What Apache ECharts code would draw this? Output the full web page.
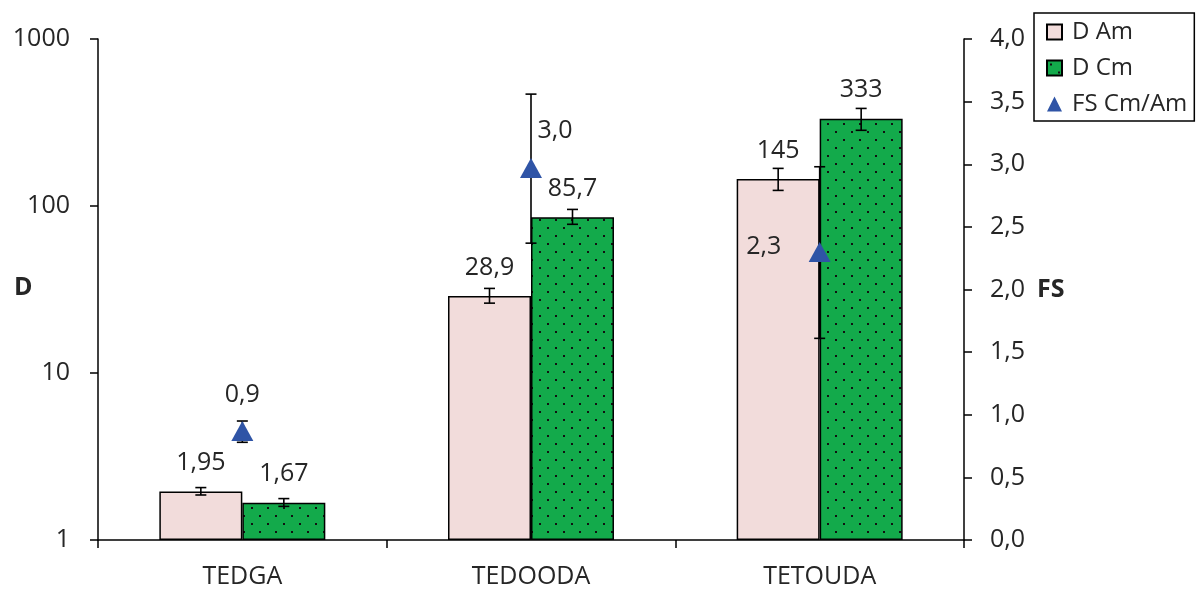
<!DOCTYPE html>
<html>
<head>
<meta charset="utf-8">
<script src="https://cdn.jsdelivr.net/npm/echarts@6/dist/echarts.min.js"></script>
<style>
  html, body { margin: 0; padding: 0; background: #ffffff; }
  #chart { width: 1196px; height: 589px; }
</style>
</head>
<body>
<div id="chart"></div>
<script>
// Categories and measured values
const categories = ['TEDGA', 'TEDOODA', 'TETOUDA'];

const dAm = [1.95, 28.9, 145];
const dAmLow = [1.86, 26.2, 124];
const dAmHigh = [2.06, 32.1, 168];

const dCm = [1.67, 85.7, 333];
const dCmLow = [1.59, 77.7, 284];
const dCmHigh = [1.77, 95.4, 384];

const fsCmAm = [0.87, 2.97, 2.30];
const fsLow = [0.78, 2.37, 1.61];
const fsHigh = [0.95, 3.56, 2.98];

const leftTicks = [1, 10, 100, 1000];

const FONT = '"Open Sans", "Noto Sans", sans-serif';
const TEXT = '#262626';
const FS = 25;
const BAR_FRAC = 0.2875; // each bar's share of a category band

// Dotted fill used for the D Cm bars
function dottedPattern() {
  const c = document.createElement('canvas');
  c.width = 16; c.height = 16;
  const g = c.getContext('2d');
  g.fillStyle = '#13aa4b';
  g.fillRect(0, 0, 16, 16);
  g.fillStyle = '#111111';
  g.fillRect(3, 3, 2, 2);
  g.fillRect(11, 11, 2, 2);
  return { image: c, repeat: 'repeat' };
}

const comma = v => String(v).replace('.', ',');

// Error bars drawn as a vertical whisker with caps
function errorSeries(name, lows, highs, side, yAxisIndex, z) {
  return {
    name: name,
    type: 'custom',
    yAxisIndex: yAxisIndex,
    z: z,
    silent: true,
    legendHoverLink: false,
    data: lows.map((lo, i) => [i, lo, highs[i]]),
    renderItem: function (params, api) {
      const bw = api.size([1, 1])[0];
      const dx = side * bw * BAR_FRAC / 2;
      const top = api.coord([api.value(0), api.value(2)]);
      const bot = api.coord([api.value(0), api.value(1)]);
      const x = top[0] + dx;
      const cap = 5.5;
      const style = { stroke: '#000000', lineWidth: 1.6, fill: null };
      return {
        type: 'group',
        children: [
          { type: 'line', shape: { x1: x, y1: top[1], x2: x, y2: bot[1] }, style: style },
          { type: 'line', shape: { x1: x - cap, y1: top[1], x2: x + cap, y2: top[1] }, style: style },
          { type: 'line', shape: { x1: x - cap, y1: bot[1], x2: x + cap, y2: bot[1] }, style: style }
        ]
      };
    }
  };
}

// Label placement for each FS point, relative to the marker centre
const fsLabelOffsets = [[0, -36], [24, -37], [-56, -5]];

const chart = echarts.init(document.getElementById('chart'), null, { renderer: 'canvas' });

chart.setOption({
  backgroundColor: '#ffffff',
  animation: false,
  textStyle: { fontFamily: FONT, color: TEXT },
  grid: { left: 98, right: 232, top: 39, bottom: 47, containLabel: false },
  legend: {
    orient: 'vertical',
    left: 1034,
    top: 13,
    padding: [7, 7, 5, 12],
    itemGap: 12,
    itemWidth: 15,
    itemHeight: 15,
    borderColor: '#000000',
    borderWidth: 1.5,
    backgroundColor: '#ffffff',
    textStyle: { fontFamily: FONT, fontSize: 24, color: TEXT, padding: [0, 0, 0, 5] },
    data: [
      { name: 'D Am', icon: 'rect' },
      { name: 'D Cm', icon: 'rect' },
      { name: 'FS Cm/Am', icon: 'triangle' }
    ]
  },
  xAxis: {
    type: 'category',
    data: categories,
    axisLine: { lineStyle: { color: '#000000', width: 1.5 } },
    axisTick: { show: true, length: 8, lineStyle: { color: '#000000', width: 1.5 } },
    axisLabel: { fontFamily: FONT, fontSize: FS, color: TEXT, margin: 24 },
    splitLine: { show: false }
  },
  yAxis: [
    {
      type: 'log',
      logBase: 10,
      min: leftTicks[0],
      max: leftTicks[leftTicks.length - 1],
      axisLine: { show: true, lineStyle: { color: '#000000', width: 1.5 } },
      axisTick: { show: true, length: 8, lineStyle: { color: '#000000', width: 1.5 } },
      axisLabel: {
        fontFamily: FONT, fontSize: FS, color: TEXT, margin: 28,
        formatter: v => String(Math.round(v))
      },
      splitLine: { show: false },
      minorTick: { show: false }
    },
    {
      type: 'value',
      min: 0,
      max: 4,
      interval: 0.5,
      position: 'right',
      axisLine: { show: true, lineStyle: { color: '#000000', width: 1.5 } },
      axisTick: { show: true, length: 8, lineStyle: { color: '#000000', width: 1.5 } },
      axisLabel: {
        fontFamily: FONT, fontSize: FS, color: TEXT, margin: 26,
        formatter: v => v.toFixed(1).replace('.', ',')
      },
      splitLine: { show: false }
    }
  ],
  graphic: [
    { type: 'text', left: 14, top: 275, style: { text: 'D', font: 'bold 25px ' + FONT, fill: TEXT } },
    { type: 'text', left: 1037, top: 277, style: { text: 'FS', font: 'bold 25px ' + FONT, fill: TEXT } }
  ],
  series: [
    {
      name: 'D Am',
      type: 'bar',
      yAxisIndex: 0,
      data: dAm,
      barWidth: (BAR_FRAC * 100) + '%',
      barGap: '0%',
      z: 2,
      itemStyle: { color: '#f2dcdb', borderColor: '#000000', borderWidth: 1.5 },
      label: {
        show: true, position: 'top', distance: 16,
        fontFamily: FONT, fontSize: FS, color: TEXT,
        formatter: p => comma(p.value)
      }
    },
    {
      name: 'D Cm',
      type: 'bar',
      yAxisIndex: 0,
      data: dCm,
      barWidth: (BAR_FRAC * 100) + '%',
      barGap: '0%',
      z: 2,
      itemStyle: { color: dottedPattern(), borderColor: '#000000', borderWidth: 1.5 },
      label: {
        show: true, position: 'top', distance: 16,
        fontFamily: FONT, fontSize: FS, color: TEXT,
        formatter: p => comma(p.value)
      }
    },
    errorSeries('errAm', dAmLow, dAmHigh, -1, 0, 3),
    errorSeries('errCm', dCmLow, dCmHigh, 1, 0, 3),
    errorSeries('errFS', fsLow, fsHigh, 0, 1, 4),
    {
      name: 'FS Cm/Am',
      type: 'scatter',
      yAxisIndex: 1,
      z: 5,
      symbol: 'triangle',
      symbolSize: [22, 20],
      itemStyle: { color: '#2f54a6', opacity: 1 },
      data: fsCmAm.map((v, i) => ({
        value: [i, v],
        label: {
          show: true,
          position: 'inside',
          offset: fsLabelOffsets[i],
          fontFamily: FONT, fontSize: FS, color: TEXT,
          formatter: p => p.value[1].toFixed(1).replace('.', ',')
        }
      }))
    }
  ]
});
</script>
</body>
</html>
